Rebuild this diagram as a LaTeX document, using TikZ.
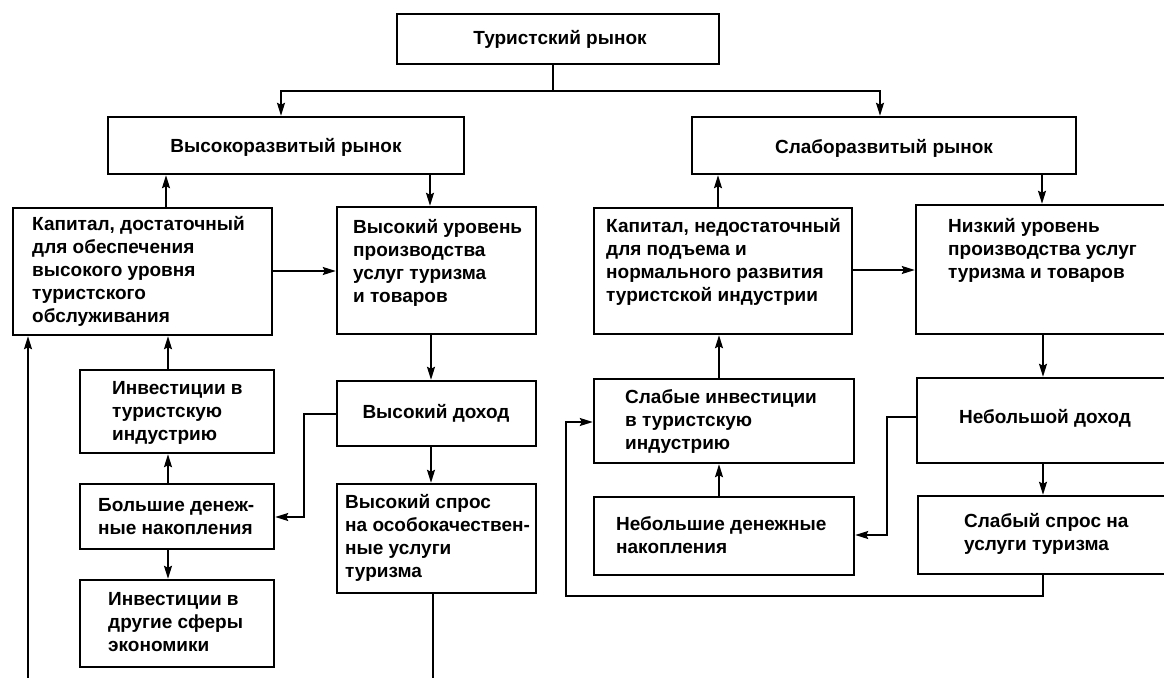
\documentclass[tikz,border=0pt]{standalone}
\usepackage{fontspec}
\setmainfont{Liberation Sans}
\usetikzlibrary{arrows.meta}
\newcommand\fs{\rule{0pt}{15pt}}
\newcommand\mkbox[5]{\node[box, minimum width={#4-#2}, minimum height={#5-#3}] (#1) at ({(#2+#4)/2},{(#3+#5)/2}) {};}
\tikzset{
  box/.style={draw, line width=2.4pt, inner sep=0pt},
  conn/.style={line width=1.6pt},
  arr/.style={conn, -{Stealth[length=13pt,width=8pt,inset=2pt]}},
  txt/.style={inner sep=0pt, align=left, font=\fontsize{19}{23}\selectfont\bfseries},
}
\begin{document}
\begin{tikzpicture}[x=1pt,y=-1pt]
\useasboundingbox (0,0) rectangle (1164,677);
\fill[white] (0,0) rectangle (1164,677);
\clip (0,0) rectangle (1164,677);

% boxes
\mkbox{top}{397}{14}{719}{64}
\mkbox{vys}{108}{117}{464}{174}
\mkbox{sla}{692}{117}{1076}{174}
\mkbox{cap1}{13}{208}{272}{335}
\mkbox{lvl1}{337}{207}{536}{334}
\mkbox{inv1}{80}{370}{274}{453}
\mkbox{inc1}{337}{381}{536}{446}
\mkbox{big}{80}{484}{274}{549}
\mkbox{oth}{80}{580}{274}{667}
\mkbox{dem1}{337}{484}{536}{593}
\mkbox{cap2}{594}{208}{852}{334}
\mkbox{low}{916}{205}{1180}{334}
\mkbox{winv}{594}{379}{854}{463}
\mkbox{sinc}{917}{378}{1180}{463}
\mkbox{ssav}{594}{497}{854}{575}
\mkbox{wdem}{918}{496}{1180}{574}

% texts
\node[txt, anchor=base] (topt) at (560,45) {Туристский рынок};
\node[txt, anchor=base] (vyst) at (286,152) {Высокоразвитый рынок};
\node[txt, anchor=base] (slat) at (884,153) {Слаборазвитый рынок};
\node[txt, anchor=north west] (cap1t) at (32,215) {\fs Капитал, достаточный\\для обеспечения\\высокого уровня\\туристского\\обслуживания};
\node[txt, anchor=north west] (lvl1t) at (353,218) {\fs Высокий уровень\\производства\\услуг туризма\\и товаров};
\node[txt, anchor=north west] (inv1t) at (112,379) {\fs Инвестиции в\\туристскую\\индустрию};
\node[txt, anchor=base] (inc1t) at (436,418) {Высокий доход};
\node[txt, anchor=north west] (bigt) at (98,496) {\fs Большие денеж-\\ные накопления};
\node[txt, anchor=north west] (dem1t) at (345,493) {\fs Высокий спрос\\на особокачествен-\\ные услуги\\туризма};
\node[txt, anchor=north west] (otht) at (108,590) {\fs Инвестиции в\\другие сферы\\экономики};
\node[txt, anchor=north west] (cap2t) at (606,217) {\fs Капитал, недостаточный\\для подъема и\\нормального развития\\туристской индустрии};
\node[txt, anchor=north west] (lowt) at (948,217) {\fs Низкий уровень\\производства услуг\\туризма и товаров};
\node[txt, anchor=north west] (winvt) at (625,388) {\fs Слабые инвестиции\\в туристскую\\индустрию};
\node[txt, anchor=base] (sinct) at (1045,423) {Небольшой доход};
\node[txt, anchor=north west] (ssavt) at (616,515) {\fs Небольшие денежные\\накопления};
\node[txt, anchor=north west] (wdemt) at (964,512) {\fs Слабый спрос на\\услуги туризма};

% helper coordinates
\coordinate (br) at (553,91);
\coordinate (x28) at (28,0);
\coordinate (x166) at (166,0);
\coordinate (x168) at (168,0);
\coordinate (x281) at (281,0);
\coordinate (x304) at (304,0);
\coordinate (x430) at (430,0);
\coordinate (x431) at (431,0);
\coordinate (x433) at (433,0);
\coordinate (x566) at (566,0);
\coordinate (x718) at (718,0);
\coordinate (x719) at (719,0);
\coordinate (x880) at (880,0);
\coordinate (x887) at (887,0);
\coordinate (x1042) at (1042,0);
\coordinate (x1043) at (1043,0);
\coordinate (y270) at (0,270);
\coordinate (y271) at (0,271);
\coordinate (y414) at (0,414);
\coordinate (y417) at (0,417);
\coordinate (y422) at (0,422);
\coordinate (y517) at (0,517);
\coordinate (y535) at (0,535);
\coordinate (y596) at (0,596);
\coordinate (ybot) at (0,685);

% connectors
\draw[conn] (top.south -| br) -- (br);
\draw[arr] (br) -| (vys.north -| x281);
\draw[arr] (br) -| (sla.north -| x880);
\draw[arr] (cap1.north -| x166) -- (vys.south -| x166);
\draw[arr] (vys.south -| x430) -- (lvl1.north -| x430);
\draw[arr] (cap1.east |- y271) -- (lvl1.west |- y271);
\draw[arr] (inv1.north -| x168) -- (cap1.south -| x168);
\draw[arr] (lvl1.south -| x431) -- (inc1.north -| x431);
\draw[arr] (big.north -| x168) -- (inv1.south -| x168);
\draw[arr] (big.south -| x168) -- (oth.north -| x168);
\draw[arr] (inc1.south -| x431) -- (dem1.north -| x431);
\draw[arr] (inc1.west |- y414) -| (x304 |- y517) -- (big.east |- y517);
\draw[conn] (dem1.south -| x433) -- (x433 |- ybot);
\draw[arr] (x28 |- ybot) -- (cap1.south -| x28);

\draw[arr] (cap2.north -| x718) -- (sla.south -| x718);
\draw[arr] (sla.south -| x1042) -- (low.north -| x1042);
\draw[arr] (cap2.east |- y270) -- (low.west |- y270);
\draw[arr] (winv.north -| x719) -- (cap2.south -| x719);
\draw[arr] (low.south -| x1043) -- (sinc.north -| x1043);
\draw[arr] (ssav.north -| x719) -- (winv.south -| x719);
\draw[arr] (sinc.south -| x1043) -- (wdem.north -| x1043);
\draw[arr] (sinc.west |- y417) -| (x887 |- y535) -- (ssav.east |- y535);
\draw[arr] (wdem.south -| x1043) -- (x1043 |- y596) -| (x566 |- y422) -- (winv.west |- y422);
\end{tikzpicture}
\end{document}
